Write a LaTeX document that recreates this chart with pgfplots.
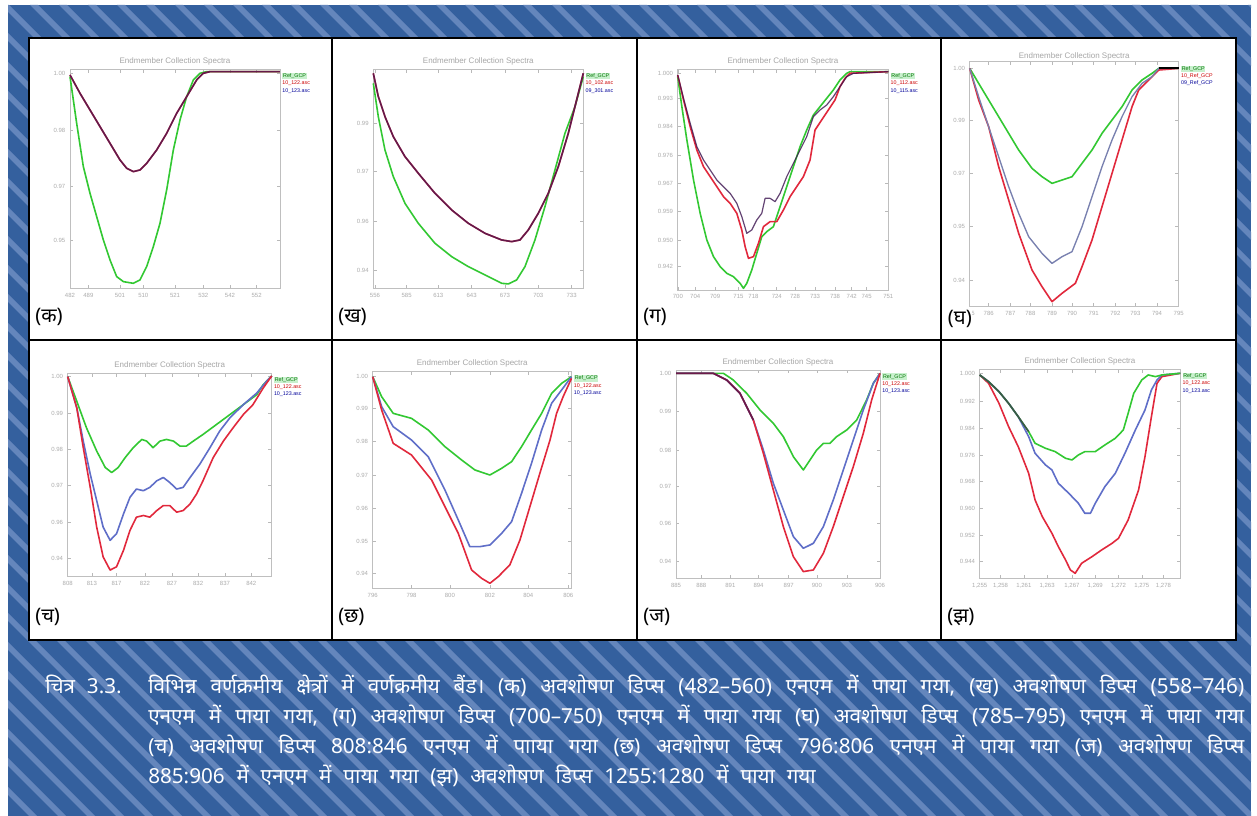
\documentclass[border=0pt]{standalone}
\usepackage{fontspec}
\setmainfont{Liberation Sans}
\newfontfamily\deva[Script=Devanagari]{Noto Sans}
\newfontfamily\devacap[Script=Devanagari,WordSpace=2.2]{Noto Sans}
\usepackage{pgfplots}
\pgfplotsset{compat=1.18}
\definecolor{bgblue}{RGB}{52,96,158}
\definecolor{stripe}{RGB}{100,134,188}
\definecolor{cgreen}{RGB}{50,200,50}
\definecolor{cred}{RGB}{225,40,60}
\definecolor{cblue}{RGB}{95,110,200}
\definecolor{cgblue}{RGB}{120,128,175}
\definecolor{cdark}{RGB}{60,20,80}
\definecolor{lgbg}{RGB}{200,240,205}
\pgfplotsset{
 panel/.style={
   scale only axis, clip=false, enlargelimits=false, scaled ticks=false,
   anchor=south west,
   axis line style={gray!50, line width=0.5pt},
   tick style={gray!55, line width=0.4pt},
   major tick length=2.5pt,
   tick label style={font=\fontsize{4.5}{5}\selectfont, text=gray!65},
   xticklabel style={/pgf/number format/fixed, /pgf/number format/precision=0, /pgf/number format/assume math mode=true},
   yticklabel style={/pgf/number format/fixed, /pgf/number format/fixed zerofill, /pgf/number format/precision=2, /pgf/number format/assume math mode=true},
   title style={font=\fontsize{6}{6}\selectfont, text=gray!70, yshift=-6.5pt},
   title={Endmember Collection Spectra},
   every axis plot/.append style={line width=1.2pt, line join=round, no markers},
 }}
\newcommand{\lgd}[3]{\node[anchor=north west, inner sep=0pt, align=left, font=\fontsize{4}{5.5}\selectfont] at (rel axis cs:1.01,0.985) {\setlength{\fboxsep}{0.6pt}\colorbox{lgbg}{\textcolor{green!45!black}{#1}}\\ \textcolor{red!80!black}{#2}\\ \textcolor{blue!60!black}{#3}};}
\begin{document}
\begin{tikzpicture}[x=0.75pt,y=0.75pt]
\path[use as bounding box] (0,0) rectangle (1257,816);
\fill[white] (0,0) rectangle (1257,816);
\begin{scope}
\clip (8,0) rectangle (1251,811);
\fill[bgblue] (8,0) rectangle (1251,811);
\foreach \i in {-840,-811,...,1260} \fill[stripe] (\i,811) -- ++(8,0) -- ++(811,-811) -- ++(-8,0) -- cycle;
\end{scope}
\fill[white] (29,778) rectangle (1236,176);
\draw[black, line width=1.5pt] (29,778) rectangle (1236,176);
\draw[black, line width=1.5pt] (332,778)--(332,176) (637,778)--(637,176) (941,778)--(941,176) (29,476)--(1236,476);
\coordinate (P1) at (70,527.7);
\coordinate (P2) at (373.3,527.7);
\coordinate (P3) at (677.7,526);
\coordinate (P4) at (969.7,509.3);
\coordinate (P5) at (67.7,239.3);
\coordinate (P6) at (372.7,227.7);
\coordinate (P7) at (676,237.7);
\coordinate (P8) at (979.7,237.7);

% (k)
\begin{axis}[panel, at={(P1)}, width=157.5pt, height=164.25pt,
 xmin=482, xmax=560.75, ymin=0.9355, ymax=1.0012,
 xtick={482,488.9,500.75,509.5,521.4,532,542,552},
 ytick={1.0,0.983,0.966,0.95}]
\addplot[cgreen] coordinates {(482,0.999)(484.5,0.985)(487,0.972)(489.5,0.964)(492,0.957)(494.5,0.950)(497,0.944)(499.5,0.939)(502,0.9375)(505.75,0.937)(508.25,0.938)(510.75,0.942)(513.25,0.948)(515.75,0.955)(518.25,0.965)(520.75,0.977)(523.25,0.986)(525.75,0.993)(528.25,0.998)(530.75,1.0)(533.25,1.0005)(560.75,1.0005)};
\addplot[cred] coordinates {(482,0.9995)(485.75,0.994)(489.5,0.989)(493.25,0.984)(497,0.979)(500.75,0.974)(503.25,0.9715)(505.75,0.9705)(508.25,0.971)(510.75,0.973)(514.5,0.977)(518.25,0.982)(522,0.988)(525.75,0.993)(529.5,0.998)(532,1.0)(534.5,1.0005)(560.75,1.0005)};
\addplot[cdark, opacity=0.75] coordinates {(482,0.9995)(485.75,0.994)(489.5,0.989)(493.25,0.984)(497,0.979)(500.75,0.974)(503.25,0.9715)(505.75,0.9705)(508.25,0.971)(510.75,0.973)(514.5,0.977)(518.25,0.982)(522,0.988)(525.75,0.993)(529.5,0.998)(532,1.0)(534.5,1.0005)(560.75,1.0005)};
\lgd{Ref\_GCP}{10\_122.asc}{10\_123.asc}
\end{axis}

% (kh)
\begin{axis}[panel, at={(P2)}, width=157.5pt, height=164.25pt,
 xmin=554.5, xmax=743.5, ymin=0.9355, ymax=1.0012,
 xtick={556,584.5,613,643,673,703,733},
 ytick={0.985,0.9705,0.9555,0.941}]
\addplot[cgreen] coordinates {(554.5,0.997)(559,0.987)(565,0.977)(572.5,0.969)(583,0.961)(595,0.955)(610,0.949)(625,0.945)(640,0.942)(655,0.9395)(670,0.937)(676,0.9368)(683.5,0.938)(691,0.942)(700,0.950)(709,0.960)(718,0.971)(727,0.982)(736,0.990)(743.5,0.999)};
\addplot[cred] coordinates {(554.5,1.000)(559,0.993)(565,0.987)(572.5,0.981)(583,0.975)(595,0.970)(610,0.964)(625,0.959)(640,0.955)(655,0.952)(670,0.950)(679,0.9495)(686.5,0.950)(694,0.953)(703,0.958)(712,0.964)(721,0.972)(730,0.982)(736,0.990)(743.5,1.000)};
\addplot[cdark, opacity=0.75] coordinates {(554.5,1.000)(559,0.993)(565,0.987)(572.5,0.981)(583,0.975)(595,0.970)(610,0.964)(625,0.959)(640,0.955)(655,0.952)(670,0.950)(679,0.9495)(686.5,0.950)(694,0.953)(703,0.958)(712,0.964)(721,0.972)(730,0.982)(736,0.990)(743.5,1.000)};
\lgd{Ref\_GCP}{10\_102.asc}{09\_301.asc}
\end{axis}

% (g)
\begin{axis}[panel, at={(P3)}, width=157.95pt, height=165.5pt,
 xmin=700, xmax=750.6, ymin=0.935, ymax=1.0012,
 xtick={700.04,704.2,709,714.6,718.2,723.8,728.2,733,737.8,741.8,745.4,750.6},
 ytick={1.0,0.9925,0.984,0.9755,0.967,0.9585,0.95,0.942},
 yticklabel style={/pgf/number format/precision=3}]
\addplot[cgreen] coordinates {(700.0,0.999)(701.0,0.990)(702.2,0.980)(703.8,0.968)(705.4,0.958)(707.0,0.950)(708.6,0.945)(710.2,0.942)(711.8,0.940)(713.4,0.939)(715.0,0.937)(715.8,0.9355)(716.6,0.937)(717.8,0.941)(719.0,0.946)(720.2,0.951)(721.4,0.9525)(723.0,0.954)(724.6,0.960)(726.2,0.966)(727.8,0.972)(729.4,0.978)(731.0,0.983)(732.6,0.9875)(734.2,0.990)(735.8,0.9925)(737.4,0.995)(739.0,0.998)(740.6,1.000)(741.4,1.0005)(750.6,1.0005)};
\addplot[cred] coordinates {(700.0,0.9995)(701.4,0.992)(703.0,0.984)(704.6,0.977)(706.2,0.972)(707.8,0.969)(709.4,0.966)(711.0,0.963)(712.6,0.961)(714.2,0.958)(715.4,0.953)(716.2,0.948)(717.0,0.9445)(718.2,0.945)(719.4,0.949)(720.6,0.954)(722.2,0.9555)(723.8,0.9555)(725.4,0.959)(727.0,0.963)(728.6,0.966)(730.2,0.969)(731.8,0.974)(733.0,0.983)(734.6,0.986)(736.2,0.989)(737.8,0.992)(739.0,0.996)(740.2,0.9985)(741.4,1.000)(750.6,1.0005)};
\addplot[cdark, line width=0.9pt, opacity=0.8] coordinates {(700.0,0.9995)(701.4,0.9925)(703.0,0.985)(704.6,0.978)(706.2,0.974)(707.8,0.971)(709.4,0.968)(711.0,0.966)(712.6,0.964)(714.2,0.961)(715.4,0.957)(716.6,0.952)(717.8,0.953)(719.0,0.956)(720.2,0.958)(721.0,0.9625)(722.2,0.9625)(723.4,0.9615)(724.6,0.964)(726.2,0.969)(727.8,0.973)(729.4,0.977)(731.0,0.981)(732.6,0.987)(734.2,0.989)(735.8,0.9905)(737.4,0.993)(739.0,0.996)(740.6,0.999)(742.2,1.000)(750.6,1.0005)};
\lgd{Ref\_GCP}{10\_112.asc}{10\_115.asc}
\end{axis}

% (gh)
\begin{axis}[panel, at={(P4)}, width=156.75pt, height=183.75pt,
 xmin=785.03, xmax=795.06, ymin=0.930, ymax=1.0035,
 xtick={785.03,785.94,786.98,787.94,788.98,789.94,790.98,792.02,792.98,794.02,795.06},
 ytick={1.0015,0.986,0.970,0.954,0.938},
 title style={yshift=-2pt}]
\addplot[cgreen] coordinates {(785.03,1.0015)(785.46,0.997)(785.94,0.992)(786.42,0.987)(786.9,0.982)(787.38,0.977)(788.02,0.9715)(788.5,0.969)(788.98,0.967)(789.46,0.968)(789.94,0.969)(790.42,0.973)(790.9,0.977)(791.38,0.982)(791.86,0.986)(792.34,0.990)(792.82,0.995)(793.3,0.998)(793.78,1.000)(794.1,1.0015)(795.06,1.0015)};
\addplot[cred] coordinates {(785.03,1.0015)(785.46,0.992)(785.94,0.984)(786.42,0.972)(786.9,0.962)(787.38,0.952)(788.02,0.941)(788.5,0.936)(788.98,0.9315)(789.46,0.934)(790.1,0.937)(790.42,0.942)(790.9,0.950)(791.38,0.960)(791.86,0.970)(792.34,0.980)(792.82,0.990)(793.14,0.995)(793.62,0.998)(794.1,1.001)(795.06,1.0015)};
\addplot[cgblue, line width=1pt] coordinates {(785.03,1.0015)(785.46,0.993)(785.94,0.984)(786.42,0.975)(786.9,0.966)(787.38,0.958)(787.86,0.951)(788.5,0.946)(788.98,0.943)(789.46,0.945)(789.94,0.9465)(790.42,0.954)(790.9,0.963)(791.38,0.972)(791.86,0.980)(792.34,0.987)(792.82,0.993)(793.3,0.997)(793.78,0.999)(794.1,1.0015)(795.06,1.0015)};
\addplot[black, line width=1.5pt] coordinates {(794.1,1.0015)(795.06,1.0015)};
\lgd{Ref\_GCP}{10\_Ref\_GCP}{09\_Ref\_GCP}
\end{axis}

% (ch)
\begin{axis}[panel, at={(P5)}, width=153pt, height=152.55pt,
 xmin=808, xmax=846, ymin=0.939, ymax=1.0005,
 xtick={808,812.5,817.1,822.4,827.4,832.3,837.3,842.2},
 ytick={0.9997,0.9885,0.9775,0.9665,0.9555,0.9445}]
\addplot[cgreen] coordinates {(808.0,0.9995)(809.7,0.992)(811.5,0.984)(813.4,0.977)(815.0,0.972)(816.2,0.9705)(817.4,0.972)(818.7,0.975)(820.2,0.978)(821.8,0.9805)(822.7,0.980)(823.9,0.978)(825.2,0.980)(826.4,0.9805)(827.7,0.980)(828.9,0.9785)(830.1,0.9785)(831.4,0.980)(833.2,0.982)(835.7,0.985)(838.2,0.988)(840.7,0.991)(843.2,0.994)(844.4,0.997)(846.0,0.9997)};
\addplot[cblue] coordinates {(808.0,0.9995)(809.7,0.990)(810.9,0.980)(812.2,0.970)(813.4,0.962)(814.6,0.954)(815.9,0.950)(817.1,0.952)(818.4,0.958)(819.6,0.963)(820.8,0.9655)(822.1,0.965)(823.3,0.966)(824.6,0.968)(825.8,0.969)(827.0,0.9675)(828.3,0.9655)(829.5,0.966)(830.8,0.969)(832.6,0.973)(834.5,0.978)(836.3,0.983)(838.2,0.987)(840.7,0.991)(843.2,0.9945)(845.0,0.998)(846.0,0.9997)};
\addplot[cred] coordinates {(808.0,0.9995)(809.7,0.990)(810.9,0.978)(812.2,0.966)(813.4,0.954)(814.6,0.945)(815.9,0.941)(817.1,0.942)(818.4,0.947)(819.6,0.953)(820.8,0.957)(822.1,0.9575)(823.3,0.957)(824.6,0.959)(825.8,0.9605)(827.0,0.9605)(828.3,0.9585)(829.5,0.959)(830.8,0.961)(832.0,0.964)(833.2,0.968)(835.1,0.975)(837.0,0.980)(838.8,0.984)(840.7,0.988)(842.5,0.991)(844.4,0.996)(846.0,0.9997)};
\lgd{Ref\_GCP}{10\_122.asc}{10\_123.asc}
\end{axis}

% (chh)
\begin{axis}[panel, at={(P6)}, width=149.25pt, height=162.45pt,
 xmin=796, xmax=806, ymin=0.9355, ymax=1.0005,
 xtick={796.0,797.95,799.88,801.89,803.82,805.83},
 ytick={0.999,0.9895,0.9795,0.9695,0.9595,0.9495,0.94}]
\addplot[cgreen] coordinates {(796.0,0.999)(796.45,0.993)(797.03,0.988)(797.95,0.9865)(798.79,0.983)(799.63,0.978)(800.47,0.974)(801.14,0.971)(801.89,0.9695)(802.48,0.9715)(802.98,0.9735)(803.48,0.978)(803.98,0.983)(804.49,0.988)(804.99,0.994)(805.49,0.997)(805.99,0.999)};
\addplot[cblue] coordinates {(796.0,0.999)(796.45,0.990)(797.03,0.984)(797.95,0.980)(798.79,0.975)(799.63,0.965)(800.3,0.956)(800.88,0.948)(801.39,0.948)(801.89,0.9485)(802.48,0.952)(802.98,0.9555)(803.48,0.964)(803.98,0.973)(804.49,0.983)(804.99,0.991)(805.49,0.995)(805.99,0.999)};
\addplot[cred] coordinates {(796.0,0.999)(796.45,0.989)(797.03,0.979)(797.95,0.9755)(798.96,0.968)(799.63,0.960)(800.3,0.952)(800.97,0.941)(801.47,0.9385)(801.89,0.937)(802.31,0.939)(802.89,0.9425)(803.40,0.950)(803.90,0.960)(804.40,0.970)(804.91,0.980)(805.24,0.988)(805.57,0.993)(805.99,0.9985)};
\lgd{Ref\_GCP}{10\_122.asc}{10\_123.asc}
\end{axis}

% (j)
\begin{axis}[panel, at={(P7)}, width=153pt, height=156.2pt,
 xmin=885, xmax=906, ymin=0.9385, ymax=1.001,
 xtick={885.0,887.6,890.6,893.5,896.6,899.5,902.6,906.0},
 ytick={1.0,0.9885,0.977,0.966,0.955,0.9435}]
\addplot[cgreen] coordinates {(885.0,1.0)(889.88,1.0)(890.9,0.998)(892.28,0.994)(893.65,0.989)(895.02,0.985)(896.05,0.981)(897.08,0.975)(898.11,0.971)(898.79,0.974)(899.48,0.977)(900.17,0.979)(900.85,0.979)(901.54,0.981)(902.57,0.983)(903.6,0.986)(904.62,0.992)(905.31,0.997)(906.0,1.0)};
\addplot[cblue] coordinates {(885.0,1.0)(888.85,1.0)(890.22,0.998)(891.59,0.994)(892.96,0.986)(893.99,0.977)(895.02,0.967)(896.05,0.959)(897.08,0.951)(898.11,0.9475)(899.14,0.949)(900.17,0.954)(901.19,0.962)(902.22,0.971)(903.25,0.980)(904.28,0.989)(905.31,0.997)(906.0,1.0)};
\addplot[cred] coordinates {(885.0,1.0)(888.85,1.0)(890.22,0.998)(891.59,0.994)(892.96,0.986)(893.99,0.976)(895.02,0.965)(896.05,0.954)(897.08,0.945)(898.11,0.9405)(899.14,0.941)(900.17,0.946)(901.19,0.954)(902.22,0.963)(903.25,0.972)(904.28,0.982)(905.14,0.992)(906.0,1.0)};
\addplot[cdark, line width=1.3pt, opacity=0.7] coordinates {(885.0,1.0)(888.85,1.0)(890.22,0.998)(891.59,0.994)(892.96,0.986)};
\lgd{Ref\_GCP}{10\_122.asc}{10\_123.asc}
\end{axis}

% (jh)
\begin{axis}[panel, at={(P8)}, width=150.45pt, height=156.75pt,
 xmin=1255, xmax=1280, ymin=0.9385, ymax=1.0012,
 xtick={1255.0,1257.6,1260.5,1263.4,1266.5,1269.4,1272.3,1275.2,1277.9},
 ytick={1.0,0.9915,0.9835,0.9755,0.9675,0.9595,0.9515,0.9435},
 yticklabel style={/pgf/number format/precision=3}]
\addplot[cred] coordinates {(1255.0,0.9995)(1256.1,0.997)(1257.4,0.991)(1258.6,0.984)(1259.8,0.978)(1261.1,0.970)(1261.9,0.962)(1262.8,0.957)(1264.0,0.952)(1264.8,0.948)(1265.7,0.944)(1266.3,0.941)(1266.9,0.940)(1267.7,0.943)(1269.0,0.945)(1270.2,0.947)(1271.5,0.949)(1272.3,0.9505)(1273.5,0.956)(1274.8,0.965)(1275.6,0.975)(1276.4,0.987)(1277.1,0.997)(1277.7,0.999)(1280.0,1.0)};
\addplot[cblue] coordinates {(1255.0,0.9995)(1256.1,0.9975)(1257.4,0.9945)(1258.6,0.991)(1259.8,0.987)(1261.1,0.981)(1261.9,0.976)(1263.2,0.9725)(1264.0,0.971)(1264.8,0.967)(1266.1,0.964)(1267.3,0.961)(1268.1,0.958)(1268.8,0.958)(1269.4,0.961)(1270.6,0.966)(1271.9,0.970)(1273.1,0.976)(1274.4,0.983)(1275.6,0.989)(1276.4,0.995)(1277.1,0.998)(1277.7,0.9995)(1280.0,1.0)};
\addplot[cgreen] coordinates {(1255.0,0.9995)(1256.1,0.9975)(1257.4,0.9945)(1258.6,0.991)(1259.8,0.987)(1261.1,0.9825)(1261.9,0.979)(1263.2,0.9775)(1264.4,0.9765)(1265.7,0.9745)(1266.5,0.974)(1267.3,0.9755)(1268.1,0.9765)(1269.4,0.9765)(1270.6,0.9785)(1271.9,0.9805)(1272.9,0.983)(1273.5,0.988)(1274.2,0.994)(1275.2,0.998)(1276.0,0.9995)(1276.9,0.999)(1277.7,0.9995)(1280.0,1.0)};
\addplot[cdark, line width=1.3pt, opacity=0.6] coordinates {(1255.0,0.9995)(1256.1,0.9975)(1257.4,0.9945)(1258.6,0.991)(1259.8,0.987)(1261.1,0.9825)};
\lgd{Ref\_GCP}{10\_122.asc}{10\_123.asc}
\end{axis}

% panel labels
\begin{scope}[every node/.style={anchor=west, inner sep=0pt, font=\deva\fontsize{15}{15}\selectfont}]
\node at (35,499) {(क)};
\node at (338,499) {(ख)};
\node at (643,499) {(ग)};
\node[fill=white, inner sep=0.5pt] at (947,497) {(घ)};
\node at (35,199) {(च)};
\node at (338,199) {(छ)};
\node at (643,199) {(ज)};
\node at (947,199) {(झ)};
\end{scope}

% caption
\begin{scope}[every node/.style={anchor=base west, inner sep=0pt, text=white, font=\devacap\fontsize{15.5}{16}\selectfont}]
\node at (45,122) {चित्र 3.3.};
\node at (148,122) {\makebox[822pt][s]{विभिन्न वर्णक्रमीय क्षेत्रों में वर्णक्रमीय बैंड। (क) अवशोषण डिप्स (482–560) एनएम में पाया गया, (ख) अवशोषण डिप्स (558–746)}};
\node at (148,92) {\makebox[822pt][s]{एनएम में पाया गया, (ग) अवशोषण डिप्स (700–750) एनएम में पाया गया (घ) अवशोषण डिप्स (785–795) एनएम में पाया गया}};
\node at (148,62) {\makebox[822pt][s]{(च) अवशोषण डिप्स 808:846 एनएम में पााया गया (छ) अवशोषण डिप्स 796:806 एनएम में पाया गया (ज) अवशोषण डिप्स}};
\node at (148,32) {885:906 में एनएम में पाया गया (झ) अवशोषण डिप्स 1255:1280 में पाया गया};
\end{scope}
\end{tikzpicture}
\end{document}
